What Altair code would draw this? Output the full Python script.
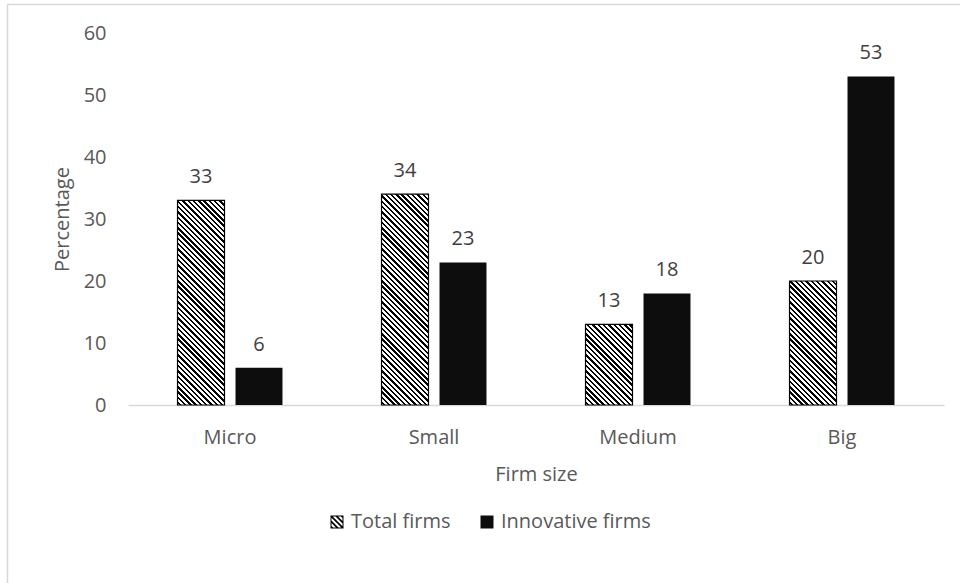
import altair as alt
import pandas as pd

# ---- data ----
categories = ["Micro", "Small", "Medium", "Big"]
total_firms = [33, 34, 13, 20]
innovative_firms = [6, 23, 18, 53]
series = ["Total firms", "Innovative firms"]
y_ticks = [0, 10, 20, 30, 40, 50, 60]

rows = []
for c, t, i in zip(categories, total_firms, innovative_firms):
    rows.append({"firm": c, "series": series[0], "value": t})
    rows.append({"firm": c, "series": series[1], "value": i})
df = pd.DataFrame(rows)

# ---- layout / style ----
PLOT_W, PLOT_H = 816, 372
Y_MAX = 60
STEP = PLOT_W / len(categories)
OFF_PI, OFF_PO = 0.19, 0.854
BAR_W = STEP / (2 - OFF_PI + 2 * OFF_PO) * (1 - OFF_PI)
FONT = "Open Sans"
GREY = "#595959"
DARK = "#404040"
BLACK = "#0d0d0d"


def hatch_gradient(value, period=5.3, thick=2.4):
    """Diagonal hatch (top-left to bottom-right) as a hard-stop linear gradient."""
    w = BAR_W
    h = value * PLOT_H / Y_MAX
    L = w + h
    s = (w + h) / (w * w + h * h)
    stops = [alt.GradientStop(offset=0, color="white")]
    k = 1.5
    while k < L:
        o1 = k / L
        o2 = min(k + thick, L) / L
        stops += [
            alt.GradientStop(offset=o1, color="white"),
            alt.GradientStop(offset=o1, color="black"),
            alt.GradientStop(offset=o2, color="black"),
            alt.GradientStop(offset=o2, color="white"),
        ]
        k += period
    stops.append(alt.GradientStop(offset=1, color="white"))
    return alt.LinearGradient(gradient="linear", stops=stops,
                              x1=0, y1=1, x2=s * w, y2=1 - s * h)


def clip_poly(poly, lo, hi):
    def clip(p, inside, inter):
        out = []
        n = len(p)
        for idx in range(n):
            a, b = p[idx - 1], p[idx]
            ia, ib = inside(a), inside(b)
            if ib:
                if not ia:
                    out.append(inter(a, b))
                out.append(b)
            elif ia:
                out.append(inter(a, b))
        return out

    def ix(xv):
        return lambda a, b: (xv, a[1] + (b[1] - a[1]) * (xv - a[0]) / (b[0] - a[0]))

    def iy(yv):
        return lambda a, b: (a[0] + (b[0] - a[0]) * (yv - a[1]) / (b[1] - a[1]), yv)

    p = poly
    p = clip(p, lambda q: q[0] >= lo, ix(lo)) if p else p
    p = clip(p, lambda q: q[0] <= hi, ix(hi)) if p else p
    p = clip(p, lambda q: q[1] >= lo, iy(lo)) if p else p
    p = clip(p, lambda q: q[1] <= hi, iy(hi)) if p else p
    return p


def hatch_symbol_path():
    inner = 0.846
    parts = ["M-1,-1L1,-1L1,1L-1,1Z",
             f"M-{inner},-{inner}L-{inner},{inner}L{inner},{inner}L{inner},-{inner}Z"]
    t = 0.37
    for c in [-1.63, -0.815, 0.0, 0.815, 1.63]:
        k1, k2 = c - t / 2, c + t / 2
        band = [(-3, -3 - k1), (3, 3 - k1), (3, 3 - k2), (-3, -3 - k2)]
        poly = clip_poly(band, -inner, inner)
        if len(poly) >= 3:
            parts.append("M" + "L".join(f"{x:.3f},{y:.3f}" for x, y in poly) + "Z")
    return " ".join(parts)


HATCH_PATH = hatch_symbol_path()

# ---- encodings ----
x_enc = alt.X("firm:N", sort=categories,
              scale=alt.Scale(paddingInner=0, paddingOuter=0),
              axis=alt.Axis(title="Firm size", labelAngle=0, ticks=False,
                            domainColor="#d9d9d9", domainWidth=1.5,
                            labelPadding=22, titlePadding=17))
xo_enc = alt.XOffset("series:N", sort=series,
                     scale=alt.Scale(domain=series, paddingInner=OFF_PI, paddingOuter=OFF_PO))
y_enc = alt.Y("value:Q", scale=alt.Scale(domain=[0, Y_MAX], nice=False),
              axis=alt.Axis(title="Percentage", values=y_ticks, ticks=False,
                            domain=False, grid=False, labelPadding=22, titlePadding=11))

base = alt.Chart(df).encode(x=x_enc, xOffset=xo_enc, y=y_enc)

layers = []
for c, v in zip(categories, total_firms):
    layers.append(
        base.transform_filter((alt.datum.series == series[0]) & (alt.datum.firm == c))
        .mark_bar(fill=hatch_gradient(v), stroke="black", strokeWidth=1.2)
    )

layers.append(
    base.transform_filter(alt.datum.series == series[1]).mark_bar(color=BLACK)
)

layers.append(
    base.mark_text(dy=-17, baseline="alphabetic", fontSize=20, font=FONT, color=DARK)
    .encode(text="value:Q")
)

legend = alt.Legend(title=None, orient="none", legendX=199, legendY=479,
                    direction="horizontal", symbolSize=169, symbolStrokeWidth=0,
                    symbolOpacity=1, labelOffset=4, columnPadding=26)
layers.append(
    base.mark_point(filled=True, opacity=0).encode(
        color=alt.Color("series:N", scale=alt.Scale(domain=series, range=["black", BLACK]),
                        legend=legend),
        shape=alt.Shape("series:N", scale=alt.Scale(domain=series, range=[HATCH_PATH, "square"]),
                        legend=legend),
    )
)

frame = alt.Chart(pd.DataFrame({"f": [0]})).mark_rect(
    fill="transparent", stroke="#d9d9d9", strokeWidth=1.5
).encode(x=alt.value(-120.5), x2=alt.value(950), y=alt.value(-28.5), y2=alt.value(700))

chart = alt.layer(frame, *layers).properties(
    width=PLOT_W, height=PLOT_H,
    padding={"left": 128, "top": 33, "right": 16, "bottom": 178},
    autosize=alt.AutoSizeParams(type="none"),
).configure_view(stroke=None).configure_axis(
    labelFont=FONT, labelFontSize=20, labelColor=GREY,
    titleFont=FONT, titleFontSize=20, titleColor=GREY, titleFontWeight="normal",
).configure_legend(
    labelFont=FONT, labelFontSize=20, labelColor=GREY,
)

chart.save("out.html", embed_options={"renderer": "svg", "actions": False})
